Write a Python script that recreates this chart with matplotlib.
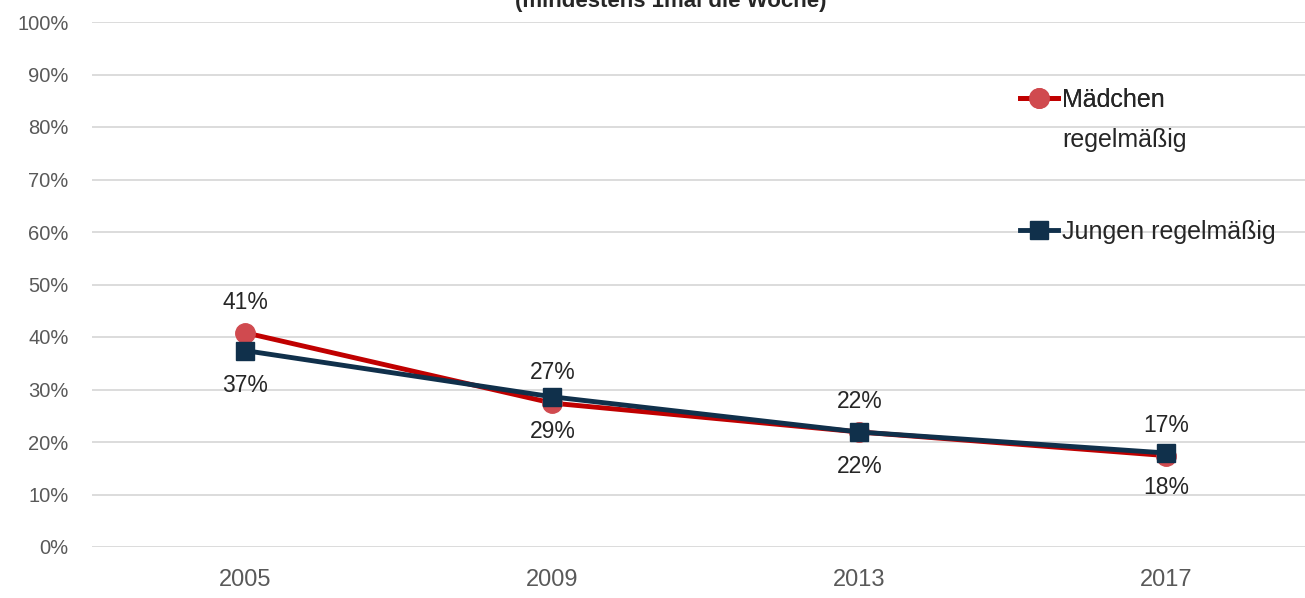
import matplotlib.pyplot as plt
from matplotlib.lines import Line2D

# data (percent)
years = ["2005", "2009", "2013", "2017"]
maedchen = [40.8, 27.4, 21.9, 17.4]
jungen = [37.4, 28.6, 21.9, 17.9]
y_ticks = [0, 10, 20, 30, 40, 50, 60, 70, 80, 90, 100]

plt.rcParams["font.family"] = ["Liberation Sans", "DejaVu Sans"]

red_line = "#c00000"
red_marker = "#d04a4f"
navy = "#10304b"

fig = plt.figure(figsize=(13.05, 5.98), dpi=100)
ax = fig.add_axes([92 / 1305, 51 / 598, (1320 - 92) / 1305, 525 / 598])

x = list(range(len(years)))
ax.plot(x, maedchen, color=red_line, lw=3.5, marker="o", ms=14,
        mfc=red_marker, mec=red_marker, zorder=3)
ax.plot(x, jungen, color=navy, lw=3.5, marker="s", ms=13,
        mfc=navy, mec=navy, zorder=4)

for i in x:
    ax.annotate(f"{round(maedchen[i])}%", (i, maedchen[i]), xytext=(0, 22),
                textcoords="offset points", ha="center", va="center",
                fontsize=16.5, color="#262626")
    ax.annotate(f"{round(jungen[i])}%", (i, jungen[i]), xytext=(0, -25),
                textcoords="offset points", ha="center", va="center",
                fontsize=16.5, color="#262626")

ax.set_xlim(-0.5, 3.5)
ax.set_ylim(0, 100)
ax.set_xticks(x)
ax.set_xticklabels(years)
ax.set_yticks(y_ticks)
ax.set_yticklabels([f"{t}%" for t in y_ticks])
ax.tick_params(axis="x", length=0, pad=16, labelsize=17, labelcolor="#595959")
ax.tick_params(axis="y", length=0, pad=17, labelsize=14.5, labelcolor="#595959")
ax.grid(axis="y", color="#d9d9d9", lw=1.3)
ax.set_axisbelow(True)
for s in ax.spines.values():
    s.set_visible(False)

# legend, handle sits on the first text line
h1 = Line2D([], [], color=red_line, lw=3.5, marker="o", ms=14, mfc=red_marker, mec=red_marker)
h2 = Line2D([], [], color=navy, lw=3.5, marker="s", ms=13, mfc=navy, mec=navy)
leg1 = fig.legend([h1], ["Mädchen"], loc="center left",
                  bbox_to_anchor=(1020 / 1305, 1 - 100 / 598), frameon=False,
                  fontsize=18, handlelength=1.5, handletextpad=0.2,
                  borderpad=0, borderaxespad=0, labelcolor="#262626")
fig.text(1062 / 1305, 1 - 140 / 598, "regelmäßig", fontsize=18,
         color="#262626", va="center", ha="left")
fig.legend([h2], ["Jungen regelmäßig"], loc="center left",
           bbox_to_anchor=(1020 / 1305, 1 - 232 / 598), frameon=False,
           fontsize=18, handlelength=1.5, handletextpad=0.2,
           borderpad=0, borderaxespad=0, labelcolor="#262626")
fig.add_artist(leg1)

# title, top is cut off in the original
fig.text(671 / 1305, 1 - 7 / 598, "(mindestens 1mal die Woche)", fontsize=16,
         fontweight="bold", color="#262626", ha="center", va="baseline")

fig.savefig("out.png", dpi=100)
